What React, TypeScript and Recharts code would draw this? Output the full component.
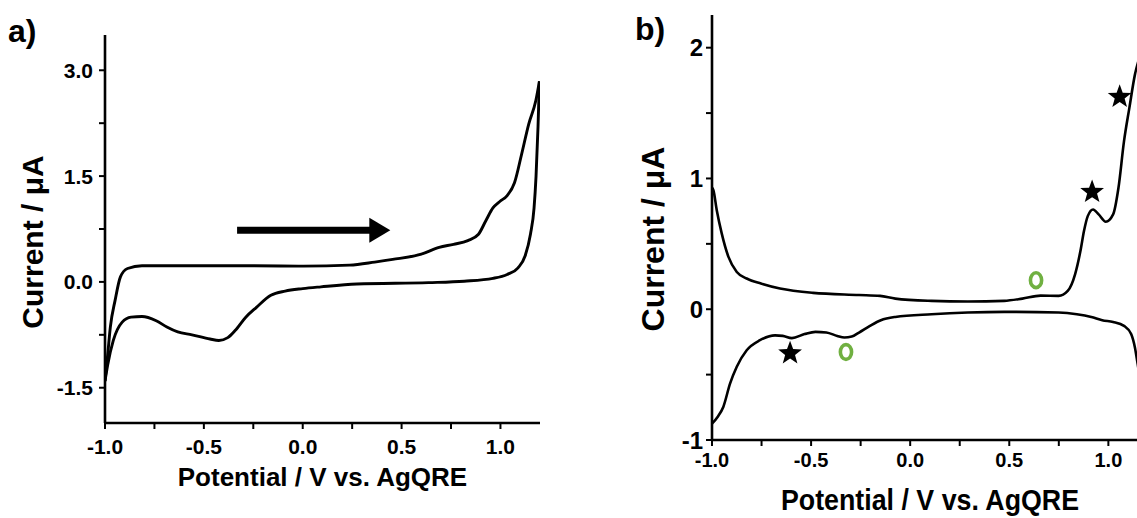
import React from 'react';
import {
  ComposedChart,
  Line,
  Scatter,
  XAxis,
  YAxis,
  ReferenceLine,
  ReferenceDot,
  Label,
} from 'recharts';

const FONT = '"Liberation Sans", Arial, Helvetica, sans-serif';

// ---------- Panel a data ----------
const aForwardPotential = [
  -1.0, -0.986, -0.973, -0.949, -0.922, -0.886, -0.813, -0.632, -0.27, 0.002,
  0.237, 0.364, 0.455, 0.6, 0.69, 0.763, 0.835, 0.889, 0.926, 0.962, 0.998,
  1.034, 1.071, 1.107, 1.143, 1.179, 1.197,
];
const aForwardCurrent = [
  -1.405, -1.02, -0.64, -0.262, 0.071, 0.19, 0.229, 0.229, 0.229, 0.224,
  0.238, 0.281, 0.319, 0.395, 0.49, 0.533, 0.586, 0.676, 0.867, 1.048, 1.143,
  1.224, 1.405, 1.81, 2.238, 2.571, 2.843,
];
const aReversePotential = [
  1.197, 1.19, 1.18, 1.17, 1.152, 1.125, 1.089, 1.034, 0.962, 0.817, 0.636,
  0.274, 0.092, 0.0, -0.089, -0.161, -0.234, -0.288, -0.342, -0.379, -0.424,
  -0.469, -0.56, -0.632, -0.687, -0.741, -0.813, -0.868, -0.913, -0.958,
  -0.986, -1.0,
];
const aReverseCurrent = [
  2.843, 2.2, 1.5, 1.05, 0.68, 0.37, 0.2, 0.105, 0.05, 0.01, -0.01, -0.03,
  -0.07, -0.095, -0.13, -0.19, -0.36, -0.5, -0.69, -0.79, -0.83, -0.81, -0.75,
  -0.71, -0.64, -0.55, -0.49, -0.5, -0.57, -0.83, -1.17, -1.405,
];
const aXTicks = [-1, -0.75, -0.5, -0.25, 0, 0.25, 0.5, 0.75, 1];
const aYTicks = [-1.5, -0.75, 0, 0.75, 1.5, 2.25, 3];
const aArrowStart = { x: -0.332, y: 0.734 };
const aArrowHead = { x: 0.347, y: 0.734 };

// ---------- Panel b data ----------
const bForwardPotential = [
  -1.0, -0.993, -0.976, -0.951, -0.917, -0.875, -0.825, -0.753, -0.657, -0.49,
  -0.258, -0.152, -0.075, 0.108, 0.291, 0.474, 0.566, 0.658, 0.749, 0.795,
  0.832, 0.859, 0.877, 0.896, 0.923, 0.951, 0.987, 1.024, 1.051, 1.079, 1.106,
  1.134, 1.161, 1.2,
];
const bForwardCurrent = [
  0.93, 0.91, 0.757, 0.58, 0.4, 0.285, 0.235, 0.196, 0.158, 0.125, 0.109,
  0.102, 0.081, 0.064, 0.059, 0.064, 0.081, 0.104, 0.102, 0.14, 0.267, 0.445,
  0.598, 0.712, 0.763, 0.725, 0.669, 0.725, 0.929, 1.285, 1.54, 1.794, 1.95,
  2.2,
];
const bReversePotential = [
  1.2, 1.148, 1.134, 1.115, 1.079, 1.024, 0.969, 0.914, 0.841, 0.749, 0.474,
  0.291, 0.108, -0.075, -0.148, -0.203, -0.258, -0.295, -0.332, -0.368,
  -0.423, -0.478, -0.533, -0.597, -0.643, -0.682, -0.758, -0.825, -0.875,
  -0.909, -0.943, -0.97, -1.0,
];
const bReverseCurrent = [
  -0.9, -0.42, -0.293, -0.19, -0.127, -0.097, -0.084, -0.059, -0.038, -0.025,
  -0.02, -0.025, -0.038, -0.059, -0.084, -0.127, -0.178, -0.209, -0.216,
  -0.204, -0.178, -0.173, -0.19, -0.221, -0.204, -0.2, -0.237, -0.314, -0.44,
  -0.569, -0.747, -0.82, -0.875,
];
const bStarPotential = [-0.606, 0.918, 1.057];
const bStarCurrent = [-0.337, 0.897, 1.624];
const bCirclePotential = [-0.324, 0.635];
const bCircleCurrent = [-0.327, 0.222];
const bXTicks = [-1, -0.75, -0.5, -0.25, 0, 0.25, 0.5, 0.75, 1];
const bYTicks = [-1, -0.5, 0, 0.5, 1, 1.5, 2];

const zip = (xs: number[], ys: number[]) => xs.map((x, i) => ({ x, y: ys[i] }));

const aForward = zip(aForwardPotential, aForwardCurrent);
const aReverse = zip(aReversePotential, aReverseCurrent);
const bForward = zip(bForwardPotential, bForwardCurrent);
const bReverse = zip(bReversePotential, bReverseCurrent);
const bStars = zip(bStarPotential, bStarCurrent);
const bCircles = zip(bCirclePotential, bCircleCurrent);

const fmtHalf = (v: number) =>
  Math.abs(v * 2 - Math.round(v * 2)) < 1e-9 ? v.toFixed(1) : '';
const fmtAY = (v: number) =>
  Math.abs(v / 1.5 - Math.round(v / 1.5)) < 1e-9 ? v.toFixed(1) : '';
const fmtBY = (v: number) =>
  Math.abs(v - Math.round(v)) < 1e-9 ? String(Math.round(v)) : '';

const axisLine = { stroke: '#000', strokeWidth: 2.6 };
const tickLine = { stroke: '#000', strokeWidth: 2 };

const starShape = (props: any) => {
  const { cx, cy } = props;
  const R = 12.5;
  const r = 5.2;
  const pts: string[] = [];
  for (let i = 0; i < 10; i++) {
    const rad = i % 2 === 0 ? R : r;
    const ang = -Math.PI / 2 + (i * Math.PI) / 5;
    pts.push(`${cx + rad * Math.cos(ang)},${cy + rad * Math.sin(ang)}`);
  }
  return <polygon points={pts.join(' ')} fill="#000" />;
};

const circleShape = (props: any) => {
  const { cx, cy } = props;
  return (
    <ellipse cx={cx} cy={cy} rx={5.6} ry={7.4} fill="none" stroke="#70b041" strokeWidth={3.6} />
  );
};

const arrowHeadShape = (props: any) => {
  const { cx, cy } = props;
  return (
    <polygon
      points={`${cx - 2},${cy - 12.5} ${cx + 19},${cy} ${cx - 2},${cy + 12.5}`}
      fill="#000"
    />
  );
};

const PanelA = () => (
  <ComposedChart width={560} height={518} margin={{ top: 35, right: 20, bottom: 35, left: 0 }}>
    <XAxis
      type="number"
      dataKey="x"
      domain={[-1, 1.2]}
      ticks={aXTicks}
      interval={0}
      tickFormatter={fmtHalf}
      allowDataOverflow
      height={60}
      axisLine={axisLine}
      tickLine={tickLine}
      tickSize={6}
      tickMargin={10}
      tick={{ fill: '#000', fontSize: 21, fontWeight: 700, fontFamily: FONT }}
    >
      <Label
        content={(p: any) => {
          const vb = p.viewBox;
          return (
            <text
              x={vb.x + vb.width / 2}
              y={vb.y + 63}
              textAnchor="middle"
              fontSize={26}
              fontWeight={700}
              fontFamily={FONT}
              fill="#000"
            >
              Potential / V vs. AgQRE
            </text>
          );
        }}
      />
    </XAxis>
    <YAxis
      type="number"
      dataKey="y"
      domain={[-2, 3.5]}
      ticks={aYTicks}
      interval={0}
      tickFormatter={fmtAY}
      allowDataOverflow
      width={105}
      axisLine={axisLine}
      tickLine={tickLine}
      tickSize={6}
      tickMargin={6}
      tick={{ fill: '#000', fontSize: 21, fontWeight: 700, fontFamily: FONT }}
    >
      <Label
        content={() => (
          <text
            x={43}
            y={242}
            transform="rotate(-90 43 242)"
            textAnchor="middle"
            fontSize={30}
            fontWeight={700}
            fontFamily={FONT}
            fill="#000"
          >
            Current / μA
          </text>
        )}
      />
    </YAxis>
    <Line data={aForward} dataKey="y" type="monotone" stroke="#000" strokeWidth={2.9} dot={false} isAnimationActive={false} />
    <Line data={aReverse} dataKey="y" type="monotone" stroke="#000" strokeWidth={2.9} dot={false} isAnimationActive={false} />
    <ReferenceLine
      segment={[aArrowStart, { x: aArrowHead.x + 0.01, y: aArrowHead.y }]}
      stroke="#000"
      strokeWidth={7}
    />
    <ReferenceDot x={aArrowHead.x} y={aArrowHead.y} shape={arrowHeadShape} />
  </ComposedChart>
);

const PanelB = () => (
  <ComposedChart width={600} height={518} margin={{ top: 15, right: 32, bottom: 18, left: 0 }}>
    <XAxis
      type="number"
      dataKey="x"
      domain={[-1, 1.2]}
      ticks={bXTicks}
      interval={0}
      tickFormatter={fmtHalf}
      allowDataOverflow
      height={60}
      axisLine={axisLine}
      tickLine={tickLine}
      tickSize={6}
      tickMargin={7}
      tick={{ fill: '#000', fontSize: 20, fontWeight: 700, fontFamily: FONT }}
    >
      <Label
        content={(p: any) => {
          const vb = p.viewBox;
          return (
            <text
              x={vb.x + vb.width / 2}
              y={vb.y + 70}
              textAnchor="middle"
              fontSize={29}
              fontWeight={700}
              fontFamily={FONT}
              fill="#000"
              textLength={298}
              lengthAdjust="spacingAndGlyphs"
            >
              Potential / V vs. AgQRE
            </text>
          );
        }}
      />
    </XAxis>
    <YAxis
      type="number"
      dataKey="y"
      domain={[-1, 2.25]}
      ticks={bYTicks}
      interval={0}
      tickFormatter={fmtBY}
      allowDataOverflow
      width={132}
      axisLine={axisLine}
      tickLine={tickLine}
      tickSize={6}
      tickMargin={3}
      tick={{ fill: '#000', fontSize: 24, fontWeight: 700, fontFamily: FONT }}
    >
      <Label
        content={() => (
          <text
            x={84}
            y={239}
            transform="rotate(-90 84 239)"
            textAnchor="middle"
            fontSize={32}
            fontWeight={700}
            fontFamily={FONT}
            fill="#000"
          >
            Current / μA
          </text>
        )}
      />
    </YAxis>
    <Line data={bForward} dataKey="y" type="monotone" stroke="#000" strokeWidth={2.6} dot={false} isAnimationActive={false} />
    <Line data={bReverse} dataKey="y" type="monotone" stroke="#000" strokeWidth={2.6} dot={false} isAnimationActive={false} />
    <Scatter data={bStars} dataKey="y" shape={starShape} isAnimationActive={false} />
    <Scatter data={bCircles} dataKey="y" shape={circleShape} isAnimationActive={false} />
  </ComposedChart>
);

export default function App() {
  return (
    <div
      style={{
        position: 'fixed',
        left: 0,
        top: 0,
        width: 1137,
        height: 518,
        overflow: 'hidden',
        background: '#fff',
        fontFamily: FONT,
      }}
    >
      <div style={{ position: 'absolute', left: 0, top: 0 }}>
        <PanelA />
      </div>
      <div style={{ position: 'absolute', left: 580, top: 0 }}>
        <PanelB />
      </div>
      <div style={{ position: 'absolute', left: 8, top: 12, fontSize: 32, fontWeight: 700, lineHeight: '38px' }}>
        a)
      </div>
      <div style={{ position: 'absolute', left: 635, top: 10, fontSize: 32, fontWeight: 700, lineHeight: '38px' }}>
        b)
      </div>
    </div>
  );
}
